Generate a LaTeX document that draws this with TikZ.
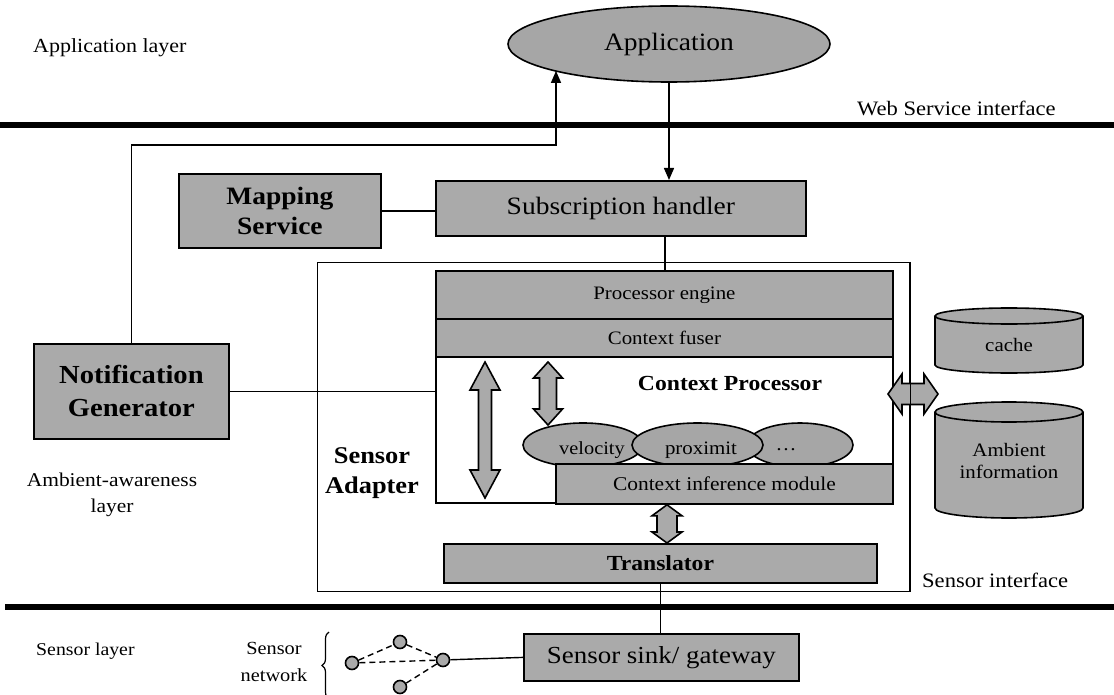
\documentclass[tikz,border=0pt]{standalone}
\usepackage{fontspec}
\setmainfont{Liberation Serif}[FakeStretch=1.1]
\usetikzlibrary{shapes.geometric,arrows.meta,calc,decorations.pathreplacing}
\definecolor{boxgray}{RGB}{170,170,170}
\definecolor{blobgray}{RGB}{166,166,166}
\newcommand\fs[2]{\fontsize{#1}{#2}\selectfont}

\tikzset{
  panel/.style={draw, line width=1.8pt, fill=boxgray, anchor=north west, inner sep=0pt},
  frame/.style={draw, line width=1.4pt},
  conn/.style={line width=1.4pt},
  layerbar/.style={line width=6pt},
  tip/.style={-{Triangle[length=12pt,width=10pt]}},
  blob/.style={ellipse, draw, line width=1.6pt, fill=blobgray, inner sep=0pt},
  twoway/.style={draw, line width=1.6pt, fill=boxgray, line join=miter},
  caption/.style={inner sep=0pt},
  mote/.style={circle, draw, line width=1.6pt, fill=boxgray, minimum size=13pt, inner sep=0pt},
  cyl/.style={draw, line width=1.6pt, fill=boxgray},
}

% vertical double-headed block arrow: top, bottom, shaft half width, head half width, head length
\newcommand\vtwoway[5]{%
  \draw[twoway] (#1) -- ($(#1)+(#4,#5)$) -- ($(#1)+(#3,#5)$) -- ($(#2)+(#3,-#5)$)
    -- ($(#2)+(#4,-#5)$) -- (#2) -- ($(#2)+(-#4,-#5)$) -- ($(#2)+(-#3,-#5)$)
    -- ($(#1)+(-#3,#5)$) -- ($(#1)+(-#4,#5)$) -- cycle;}
% horizontal double-headed block arrow: left, right, shaft half width, head half width, head length
\newcommand\htwoway[5]{%
  \draw[twoway] (#1) -- ($(#1)+(#5,-#4)$) -- ($(#1)+(#5,-#3)$) -- ($(#2)+(-#5,-#3)$)
    -- ($(#2)+(-#5,-#4)$) -- (#2) -- ($(#2)+(-#5,#4)$) -- ($(#2)+(-#5,#3)$)
    -- ($(#1)+(#5,#3)$) -- ($(#1)+(#5,#4)$) -- cycle;}

\begin{document}
\begin{tikzpicture}[x=1pt, y=-1pt]
\useasboundingbox (0,0) rectangle (1114,695);

% layer captions and separating bars
\node[caption, anchor=west, font=\fs{20}{24}] (applayer) at (33,48) {Application layer};
\node[caption, anchor=west, font=\fs{20.5}{24}] (wsif) at (857,108) {Web Service interface};
\node[caption, align=center, font=\fs{19.5}{26}] (amblayer) at (112,495) {Ambient-awareness\\layer};
\node[caption, anchor=west, font=\fs{20.5}{24}] (snif) at (922,580) {Sensor interface};
\node[caption, anchor=west, font=\fs{18}{22}] (senslayer) at (36,651) {Sensor layer};
\coordinate (wsl) at (0,125);   \coordinate (wsr) at (1114,125);
\coordinate (snl) at (5,607);   \coordinate (snr) at (1114,607);
\draw[layerbar] (wsl) -- (wsr);
\draw[layerbar] (snl) -- (snr);

% application
\node[blob, minimum width=322pt, minimum height=76pt, font=\fs{25}{28}] (app) at (669,44) {Application};

% services
\node[panel, minimum width=202pt, minimum height=74pt, font=\bfseries\fs{25}{30}, align=center] (map) at (178,173) {Mapping\\Service};
\node[panel, minimum width=370pt, minimum height=55pt, font=\fs{25}{30}] (sub) at (435,180) {Subscription handler};
\node[panel, minimum width=195pt, minimum height=95pt, font=\bfseries\fs{26}{33}, align=center] (notif) at (33,343) {Notification\\Generator};

% sensor adapter and context processor
\node[frame, fill=white, anchor=north west, minimum width=592pt, minimum height=329pt, inner sep=0pt] (adapter) at (317,262) {};
\node[caption, align=center, font=\bfseries\fs{24}{30}] (satitle) at (372,473) {Sensor\\Adapter};
\node[draw, line width=1.8pt, fill=white, anchor=north west, minimum width=457pt, minimum height=232pt, inner sep=0pt] (cp) at (435,270) {};
\node[panel, minimum width=457pt, minimum height=48pt, font=\fs{19}{22}] (engine) at (435,270) {Processor engine};
\node[panel, minimum width=457pt, minimum height=38pt, font=\fs{19}{22}] (fuser) at (435,318) {Context fuser};
\node[caption, font=\bfseries\fs{21.5}{24}] (cptitle) at (730,383) {Context Processor};

\coordinate (bigtop) at (485,362); \coordinate (bigbot) at (485,498);
\vtwoway{bigtop}{bigbot}{6.5}{15}{28}
\coordinate (smtop) at (548,362); \coordinate (smbot) at (548,425);
\vtwoway{smtop}{smbot}{8.5}{14.5}{16}

\node[blob, minimum width=120pt, minimum height=44pt] (vel) at (583,445) {};
\node[blob, minimum width=106pt, minimum height=44pt] (etc) at (800,445) {};
\node[blob, minimum width=131pt, minimum height=44pt] (prox) at (697.5,445) {};
\node[caption, font=\fs{18.5}{22}] at (592,450) {velocity};
\node[caption, font=\fs{19}{22}] at (701,450) {proximit};
\node[caption, font=\fs{19}{22}] at (786,450) {…};

\node[panel, minimum width=337pt, minimum height=40pt, font=\fs{19.5}{22}] (inf) at (555,463) {Context inference module};
\node[panel, minimum width=433pt, minimum height=39pt, font=\bfseries\fs{21.5}{24}] (trn) at (443,543) {Translator};
\path (inf.south west) ++(112,0) coordinate (ita);
\coordinate (itb) at (ita |- trn.north);
\vtwoway{ita}{itb}{10}{15}{11}

% stores
\draw[cyl] (935,316) -- (935,365) arc[start angle=180, end angle=0, x radius=74, y radius=8] -- (1083,316);
\draw[cyl] (1009,316) ellipse[x radius=74, y radius=8];
\node[caption, font=\fs{19}{22}] (cache) at (1009,345) {cache};
\draw[cyl] (935,412) -- (935,508) arc[start angle=180, end angle=0, x radius=74, y radius=10] -- (1083,412);
\draw[cyl] (1009,412) ellipse[x radius=74, y radius=10];
\node[caption, align=center, font=\fs{19}{22}] (ambient) at (1009,461) {Ambient\\information};

\coordinate (storel) at (888,394); \coordinate (storer) at (938,394);
\htwoway{storel}{storer}{10.5}{20}{14}
\draw[frame] (adapter.north east) -- (adapter.south east);

% sensor side
\node[panel, minimum width=275pt, minimum height=47pt, font=\fs{24.5}{28}] (sink) at (523,633) {Sensor sink/ gateway};
\node[caption, align=center, font=\fs{18.5}{27}] (snet) at (274,662) {Sensor\\network};
\draw[line width=1.2pt, decorate, decoration={brace, amplitude=7pt}] (329,699) -- (329,632);
\node[mote] (m1) at (352,663) {};
\node[mote] (m2) at (400,642) {};
\node[mote] (m3) at (400,687) {};
\node[mote] (m4) at (443,660) {};
\draw[conn, dash pattern=on 6pt off 4pt] (m1) -- (m2);
\draw[conn, dash pattern=on 6pt off 4pt] (m1) -- (m4);
\draw[conn, dash pattern=on 6pt off 4pt] (m2) -- (m4);
\draw[conn, dash pattern=on 6pt off 4pt] (m3) -- (m4);
\draw[conn] (m4) -- (sink.west);

% connectors
\coordinate (upturn) at (556,145);
\coordinate (downx) at (665,0);
\draw[conn, tip] (notif.north) |- (upturn) -- (upturn |- app.193.5);
\draw[conn, tip] (app.south) -- (app.south |- sub.north);
\draw[conn] (map.east) -- (map.east -| sub.west);
\draw[conn] (downx |- sub.south) -- (downx |- engine.north);
\draw[conn] (notif.east) -- (notif.east -| cp.west);
\draw[conn] (trn.south) -- (trn.south |- sink.north);
\end{tikzpicture}
\end{document}
